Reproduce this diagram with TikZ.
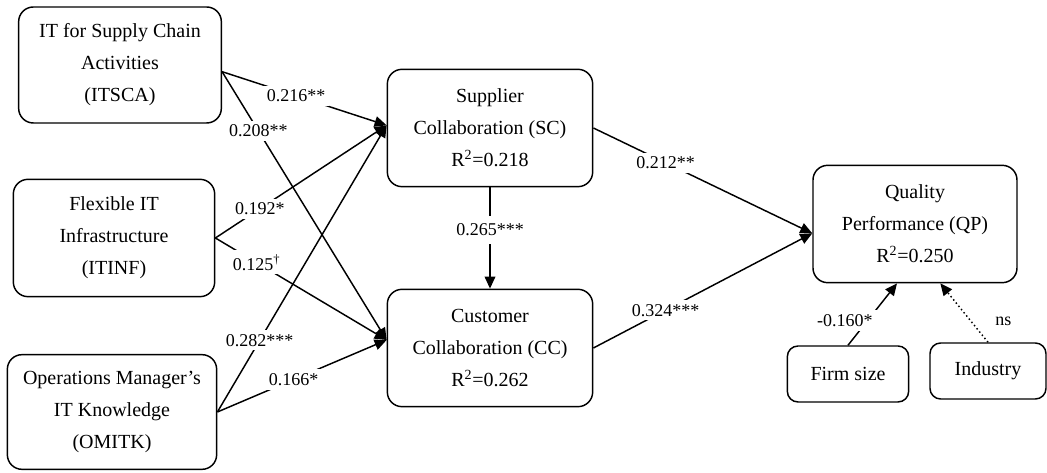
\documentclass[tikz,border=0pt]{standalone}
\usepackage{fontspec}
\setmainfont{Liberation Serif}
\usetikzlibrary{arrows.meta}

\begin{document}
\begin{tikzpicture}[x=0.75pt,y=-0.75pt,line width=1.1pt,
        >={Triangle[length=9pt,width=8pt]}]
            \tikzstyle{box}=[draw,rounded corners=11pt,align=center,inner sep=0pt,font=\fontsize{15}{24}\selectfont]
            \tikzstyle{lbl}=[fill=white,inner sep=3pt,font=\fontsize{13.5}{16}\selectfont]

            \useasboundingbox (0,0) rectangle (1047,473);

            % exogenous constructs
            \node [box,minimum width=152pt,minimum height=87pt] (itsca) at (120,65) {IT for Supply Chain\\Activities\\(ITSCA)};
            \node [box,minimum width=151pt,minimum height=88pt] (itinf) at (114,238) {Flexible IT\\Infrastructure\\(ITINF)};
            \node [box,minimum width=157pt,minimum height=86pt] (omitk) at (112,412) {Operations Manager’s\\IT Knowledge\\(OMITK)};

            % mediators and outcome
            \node [box,minimum width=154pt,minimum height=88pt] (sc) at (490,128) {Supplier\\Collaboration (SC)\\R\textsuperscript{2}=0.218};
            \node [box,minimum width=154pt,minimum height=88pt] (cc) at (490,348) {Customer\\Collaboration (CC)\\R\textsuperscript{2}=0.262};
            \node [box,minimum width=153pt,minimum height=88pt] (qp) at (915,224) {Quality\\Performance (QP)\\R\textsuperscript{2}=0.250};

            % controls
            \node [box,rounded corners=8pt,minimum width=91pt,minimum height=42pt] (firm) at (848,374) {Firm size};
            \node [box,rounded corners=8pt,minimum width=87pt,minimum height=42pt] (ind) at (988,371) {Industry};

            \coordinate (scin) at ([yshift=2pt]sc.west);
            \coordinate (ccin) at ([yshift=6pt]cc.west);
            \coordinate (qpin) at ([yshift=-7pt]qp.west);

            \draw[->] ([yshift=-5pt]itsca.east) -- node[lbl,pos=0.45] {0.216**} (scin);
            \draw[->] ([yshift=-5pt]itsca.east) -- node[lbl,pos=0.22] {0.208**} (ccin);
            \draw[->] (itinf.east) -- node[lbl,pos=0.26] {0.192*} (scin);
            \draw[->] (itinf.east) -- node[lbl,pos=0.24] {0.125\textsuperscript{†}} (ccin);
            \draw[->] (omitk.east) -- node[lbl,pos=0.25] {0.282***} (scin);
            \draw[->] (omitk.east) -- node[lbl,pos=0.45] {0.166*} (ccin);

            \draw[->] (sc.south) -- node[lbl,pos=0.42,inner ysep=6pt] {0.265***} (cc.north);
            \draw[->] (sc.east) -- node[lbl,pos=0.33] {0.212**} (qpin);
            \draw[->] (cc.east) -- node[lbl,pos=0.33] {0.324***} (qpin);

            \draw[->] (firm.north) -- node[lbl,pos=0.4,xshift=-17pt] {-0.160*} ([xshift=-13.5pt]qp.south);
            \draw[->,dotted] (ind.north) -- node[pos=0.35,xshift=24pt,font=\fontsize{13.5}{16}\selectfont] {ns} ([xshift=19pt]qp.south);
        \end{tikzpicture}
\end{document}
